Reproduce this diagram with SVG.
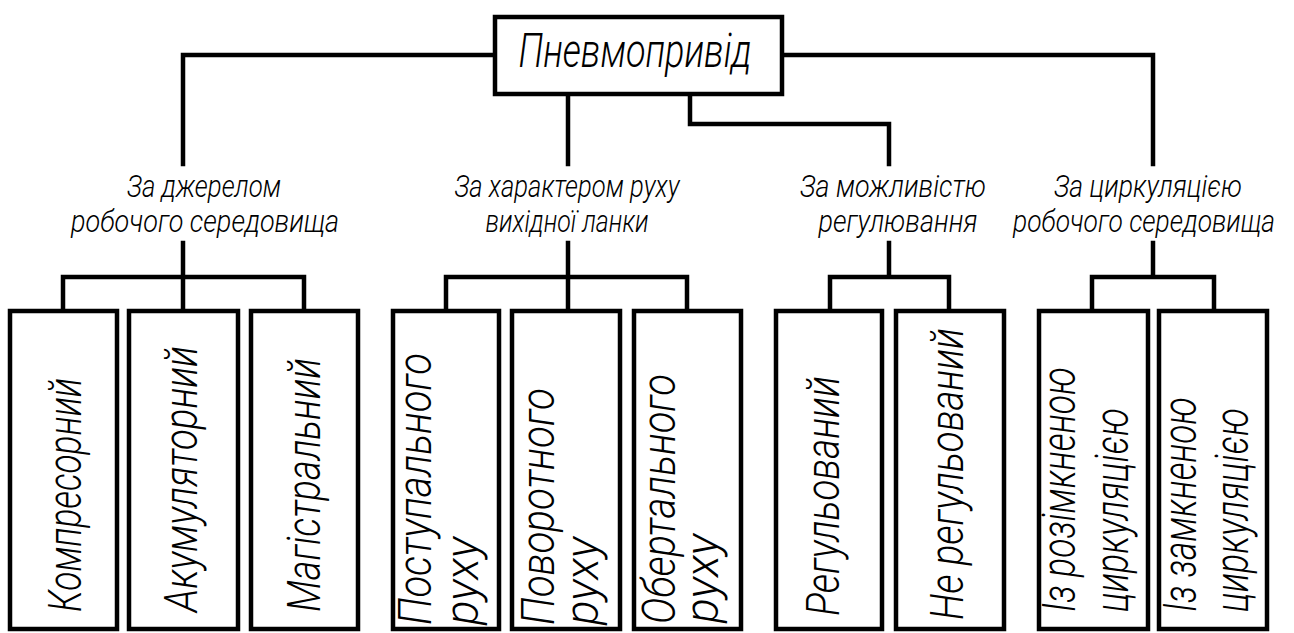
<svg xmlns="http://www.w3.org/2000/svg" width="1294" height="633" viewBox="0 0 1294 633">
<style>
.bg{fill:#ffffff}
.box{fill:#ffffff;stroke:#000000;stroke-width:4.5}
.wire{fill:none;stroke:#000000;stroke-width:4.5;stroke-linejoin:miter;stroke-linecap:square}
.t{font-family:"Roboto","Liberation Sans","DejaVu Sans",sans-serif;font-style:italic;font-weight:300;fill:#000000}
.title{font-size:48px}
.lab{font-size:32px}
.v{font-size:46px}
</style>
<rect class="bg" x="0" y="0" width="1294" height="633"/>
<g id="connectors">
  <path class="wire" d="M495 55 H183 V164"/>
  <path class="wire" d="M568 94 V164"/>
  <path class="wire" d="M690 94 V124 H889 V164"/>
  <path class="wire" d="M782 55 H1153 V164"/>
  <path class="wire" d="M183 243 V277 M63 311 V277 H304 V311 M183 277 V311"/>
  <path class="wire" d="M568 243 V277 M446 311 V277 H687 V311 M568 277 V311"/>
  <path class="wire" d="M889 243 V277 M830 311 V277 H949 V311"/>
  <path class="wire" d="M1153 243 V277 M1092 311 V277 H1214 V311"/>
</g>
<g id="root">
  <rect class="box" x="495" y="17" width="287" height="77"/>
  <text class="t title" x="635" y="67" text-anchor="middle" textLength="233" lengthAdjust="spacingAndGlyphs">Пневмопривід</text>
</g>
<g id="cat-source">
  <text class="t lab" x="204" y="197" text-anchor="middle" textLength="154" lengthAdjust="spacingAndGlyphs">За джерелом</text>
  <text class="t lab" x="205" y="232" text-anchor="middle" textLength="268" lengthAdjust="spacingAndGlyphs">робочого середовища</text>
</g>
<g id="cat-motion">
  <text class="t lab" x="567" y="197" text-anchor="middle" textLength="225" lengthAdjust="spacingAndGlyphs">За характером руху</text>
  <text class="t lab" x="567" y="232" text-anchor="middle" textLength="163" lengthAdjust="spacingAndGlyphs">вихідної ланки</text>
</g>
<g id="cat-regulation">
  <text class="t lab" x="893" y="197" text-anchor="middle" textLength="186" lengthAdjust="spacingAndGlyphs">За можливістю</text>
  <text class="t lab" x="898" y="232" text-anchor="middle" textLength="159" lengthAdjust="spacingAndGlyphs">регулювання</text>
</g>
<g id="cat-circulation">
  <text class="t lab" x="1148" y="197" text-anchor="middle" textLength="188" lengthAdjust="spacingAndGlyphs">За циркуляцією</text>
  <text class="t lab" x="1144" y="232" text-anchor="middle" textLength="262" lengthAdjust="spacingAndGlyphs">робочого середовища</text>
</g>
<g id="n-kompresornyi">
  <rect class="box" x="10" y="311" width="107" height="318"/>
  <text class="t v" transform="translate(81,612) rotate(-90)" textLength="234" lengthAdjust="spacingAndGlyphs">Компресорний</text>
</g>
<g id="n-akumuliatornyi">
  <rect class="box" x="129" y="311" width="109" height="318"/>
  <text class="t v" transform="translate(197,612) rotate(-90)" textLength="266" lengthAdjust="spacingAndGlyphs">Акумуляторний</text>
</g>
<g id="n-mahistralnyi">
  <rect class="box" x="251" y="311" width="107" height="318"/>
  <text class="t v" transform="translate(320,612) rotate(-90)" textLength="254" lengthAdjust="spacingAndGlyphs">Магістральний</text>
</g>
<g id="n-postupalnoho">
  <rect class="box" x="393" y="311" width="106" height="318"/>
  <text class="t v" transform="translate(431,625) rotate(-90)" textLength="272" lengthAdjust="spacingAndGlyphs">Поступального</text>
  <text class="t v" transform="translate(478,625) rotate(-90)" textLength="88" lengthAdjust="spacingAndGlyphs">руху</text>
</g>
<g id="n-povorotnoho">
  <rect class="box" x="512" y="311" width="108" height="318"/>
  <text class="t v" transform="translate(554,625) rotate(-90)" textLength="237" lengthAdjust="spacingAndGlyphs">Поворотного</text>
  <text class="t v" transform="translate(598,625) rotate(-90)" textLength="88" lengthAdjust="spacingAndGlyphs">руху</text>
</g>
<g id="n-obertalnoho">
  <rect class="box" x="634" y="311" width="107" height="318"/>
  <text class="t v" transform="translate(675,624) rotate(-90)" textLength="250" lengthAdjust="spacingAndGlyphs">Обертального</text>
  <text class="t v" transform="translate(718,623) rotate(-90)" textLength="89" lengthAdjust="spacingAndGlyphs">руху</text>
</g>
<g id="n-rehulovanyi">
  <rect class="box" x="776" y="311" width="106" height="318"/>
  <text class="t v" transform="translate(839,616) rotate(-90)" textLength="240" lengthAdjust="spacingAndGlyphs">Регульований</text>
</g>
<g id="n-ne-rehulovanyi">
  <rect class="box" x="896" y="311" width="108" height="318"/>
  <text class="t v" transform="translate(963,620) rotate(-90)" textLength="292" lengthAdjust="spacingAndGlyphs">Не регульований</text>
</g>
<g id="n-rozimknenoiu">
  <rect class="box" x="1039" y="311" width="109" height="318"/>
  <text class="t v" transform="translate(1075,612) rotate(-90)" textLength="245" lengthAdjust="spacingAndGlyphs">Із розімкненою</text>
  <text class="t v" transform="translate(1128,612) rotate(-90)" textLength="204" lengthAdjust="spacingAndGlyphs">циркуляцією</text>
</g>
<g id="n-zamknenoiu">
  <rect class="box" x="1159" y="311" width="108" height="318"/>
  <text class="t v" transform="translate(1196,612) rotate(-90)" textLength="215" lengthAdjust="spacingAndGlyphs">Із замкненою</text>
  <text class="t v" transform="translate(1248,612) rotate(-90)" textLength="204" lengthAdjust="spacingAndGlyphs">циркуляцією</text>
</g>
</svg>
